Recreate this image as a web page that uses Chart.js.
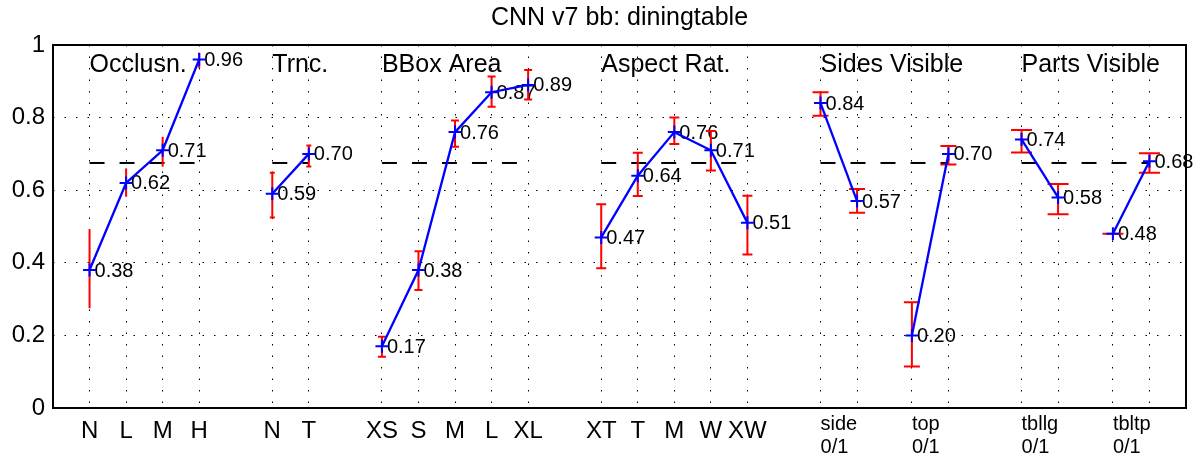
<!DOCTYPE html>
<html>
<head>
<meta charset="utf-8">
<title>CNN v7 bb: diningtable</title>
<script src="https://cdn.jsdelivr.net/npm/chart.js@4.4.1/dist/chart.umd.min.js"></script>
<style>
    html, body { margin: 0; padding: 0; background: #fff; }
</style>
</head>
<body>
<canvas id="chart" width="1200" height="457"></canvas>
<script>
// AP per object characteristic, with lower / upper error bounds
const occlX = [0, 1, 2, 3]
const occlCats = ['N', 'L', 'M', 'H']
const occlAP = [0.38, 0.62, 0.71, 0.96]
const occlLo = [0.275, 0.582, 0.665, 0.936]
const occlHi = [0.492, 0.660, 0.747, 0.979]

const trncX = [5, 6]
const trncCats = ['N', 'T']
const trncAP = [0.59, 0.70]
const trncLo = [0.525, 0.665]
const trncHi = [0.648, 0.723]

const areaX = [8, 9, 10, 11, 12]
const areaCats = ['XS', 'S', 'M', 'L', 'XL']
const areaAP = [0.17, 0.38, 0.76, 0.87, 0.89]
const areaLo = [0.141, 0.325, 0.720, 0.830, 0.850]
const areaHi = [0.196, 0.432, 0.792, 0.913, 0.931]

const aspX = [14, 15, 16, 17, 18]
const aspCats = ['XT', 'T', 'M', 'W', 'XW']
const aspAP = [0.47, 0.64, 0.76, 0.71, 0.51]
const aspLo = [0.385, 0.584, 0.727, 0.654, 0.423]
const aspHi = [0.561, 0.703, 0.800, 0.763, 0.585]

// sides visible: side 0/1, top 0/1
const sideX = [20, 21]
const sideAP = [0.84, 0.57]
const sideLo = [0.805, 0.538]
const sideHi = [0.870, 0.603]

const topX = [22.5, 23.5]
const topAP = [0.20, 0.70]
const topLo = [0.114, 0.671]
const topHi = [0.291, 0.722]

// parts visible: tbllg 0/1, tbltp 0/1
const tbllgX = [25.5, 26.5]
const tbllgAP = [0.74, 0.58]
const tbllgLo = [0.704, 0.534]
const tbllgHi = [0.766, 0.617]

const tbltpX = [28, 29]
const tbltpAP = [0.48, 0.68]
const tbltpLo = [0.48, 0.648]
const tbltpHi = [0.48, 0.702]

const meanAP = 0.675
const yTicks = [0, 0.2, 0.4, 0.6, 0.8, 1]
const chartTitle = 'CNN v7 bb: diningtable'

const FONT = '"Liberation Sans", Arial, Helvetica, sans-serif'
Chart.defaults.font.family = FONT
Chart.defaults.color = '#000'

const occlS = { x: occlX, ap: occlAP, lo: occlLo, hi: occlHi, cap: 0 }
const trncS = { x: trncX, ap: trncAP, lo: trncLo, hi: trncHi, cap: 5 }
const areaS = { x: areaX, ap: areaAP, lo: areaLo, hi: areaHi, cap: 8 }
const aspS = { x: aspX, ap: aspAP, lo: aspLo, hi: aspHi, cap: 10 }
const sideS = { x: sideX, ap: sideAP, lo: sideLo, hi: sideHi, cap: 16 }
const topS = { x: topX, ap: topAP, lo: topLo, hi: topHi, cap: 16 }
const tbllgS = { x: tbllgX, ap: tbllgAP, lo: tbllgLo, hi: tbllgHi, cap: 21 }
const tbltpS = { x: tbltpX, ap: tbltpAP, lo: tbltpLo, hi: tbltpHi, cap: 21 }

const series = [occlS, trncS, areaS, aspS, sideS, topS, tbllgS, tbltpS]

const groups = [
    { title: 'Occlusn.', parts: [occlS], cats: [occlCats] },
    { title: 'Trnc.', parts: [trncS], cats: [trncCats] },
    { title: 'BBox Area', parts: [areaS], cats: [areaCats] },
    { title: 'Aspect Rat.', parts: [aspS], cats: [aspCats] },
    { title: 'Sides Visible', parts: [sideS, topS], subs: ['side', 'top'] },
    { title: 'Parts Visible', parts: [tbllgS, tbltpS], subs: ['tbllg', 'tbltp'] }
]

const allX = series.flatMap(s => s.x)

// title, dashed mean line, error bars, value labels and text round the axes
const overlay = {
    id: 'overlay',
    beforeDatasetsDraw(chart) {
        const { ctx, chartArea: a, scales: { x, y } } = chart
        ctx.save()

        // title centred over the plot box
        ctx.fillStyle = '#000'
        ctx.font = '25px ' + FONT
        ctx.textAlign = 'center'
        ctx.textBaseline = 'middle'
        ctx.fillText(chartTitle, (a.left + a.right) / 2, a.top - 27)

        // plot box
        ctx.setLineDash([])
        ctx.strokeStyle = '#000'
        ctx.lineWidth = 2
        ctx.strokeRect(a.left, a.top, a.right - a.left, a.bottom - a.top)

        // mean AP across each group
        ctx.lineWidth = 2
        ctx.setLineDash([15, 15])
        groups.forEach(g => {
            const xs = g.parts.flatMap(p => p.x)
            const yy = y.getPixelForValue(meanAP)
            ctx.beginPath()
            ctx.moveTo(x.getPixelForValue(Math.min(...xs)), yy)
            ctx.lineTo(x.getPixelForValue(Math.max(...xs)), yy)
            ctx.stroke()
        })
        ctx.setLineDash([])

        // value labels
        ctx.font = '20px ' + FONT
        ctx.textAlign = 'left'
        series.forEach(s => {
            s.x.forEach((v, i) => {
                ctx.fillText(s.ap[i].toFixed(2), x.getPixelForValue(v) + 5, y.getPixelForValue(s.ap[i]) + 1)
            })
        })

        // error bars
        ctx.strokeStyle = '#ff0000'
        ctx.lineWidth = 2
        series.forEach(s => {
            s.x.forEach((v, i) => {
                const px = x.getPixelForValue(v)
                const yl = y.getPixelForValue(s.lo[i])
                const yh = y.getPixelForValue(s.hi[i])
                ctx.beginPath()
                ctx.moveTo(px, yl)
                ctx.lineTo(px, yh)
                if (s.cap > 0) {
                    ctx.moveTo(px - s.cap / 2, yl)
                    ctx.lineTo(px + s.cap / 2, yl)
                    ctx.moveTo(px - s.cap / 2, yh)
                    ctx.lineTo(px + s.cap / 2, yh)
                }
                ctx.stroke()
            })
        })

        // group titles
        ctx.font = '25px ' + FONT
        groups.forEach(g => {
            ctx.fillText(g.title, x.getPixelForValue(g.parts[0].x[0]), a.top + 20)
        })

        // category labels under the axis
        groups.forEach(g => {
            if (g.cats) {
                ctx.font = '24px ' + FONT
                ctx.textAlign = 'center'
                g.parts.forEach((p, k) => {
                    p.x.forEach((v, i) => {
                        ctx.fillText(g.cats[k][i], x.getPixelForValue(v), a.bottom + 23)
                    })
                })
            } else {
                ctx.font = '20px ' + FONT
                ctx.textAlign = 'left'
                g.parts.forEach((p, k) => {
                    const px = x.getPixelForValue(p.x[0])
                    ctx.fillText(g.subs[k], px, a.bottom + 16)
                    ctx.fillText('0/1', px, a.bottom + 39)
                })
            }
        })

        ctx.restore()
    }
}

new Chart(document.getElementById('chart'), {
    type: 'line',
    data: {
        datasets: series.map(s => ({
            data: s.x.map((v, i) => ({ x: v, y: s.ap[i] })),
            borderColor: '#0000ff',
            borderWidth: 2.3,
            pointStyle: 'cross',
            pointRadius: 6.5,
            pointBorderWidth: 2,
            pointBorderColor: '#0000ff',
            pointBackgroundColor: '#0000ff',
            tension: 0,
            clip: false
        }))
    },
    options: {
        responsive: false,
        animation: false,
        devicePixelRatio: 1,
        layout: { padding: { left: 0, right: 14, top: 45, bottom: 0 } },
        plugins: {
            legend: { display: false },
            tooltip: { enabled: false },
            title: { display: false }
        },
        scales: {
            x: {
                type: 'linear',
                min: -1,
                max: 30,
                afterBuildTicks: s => { s.ticks = allX.map(v => ({ value: v })) },
                afterFit: s => { s.height = 49 },
                ticks: { display: false },
                grid: { color: '#000', lineWidth: 1, drawTicks: false },
                border: { display: false, dash: [1.5, 10] }
            },
            y: {
                min: 0,
                max: 1,
                afterBuildTicks: s => { s.ticks = yTicks.map(v => ({ value: v })) },
                afterFit: s => { s.width = 53 },
                ticks: { padding: 8, color: '#000', font: { size: 24 }, callback: v => String(v) },
                grid: { color: '#000', lineWidth: 1, drawTicks: false },
                border: { display: false, dash: [1.5, 10] }
            }
        }
    },
    plugins: [overlay]
})
</script>
</body>
</html>
